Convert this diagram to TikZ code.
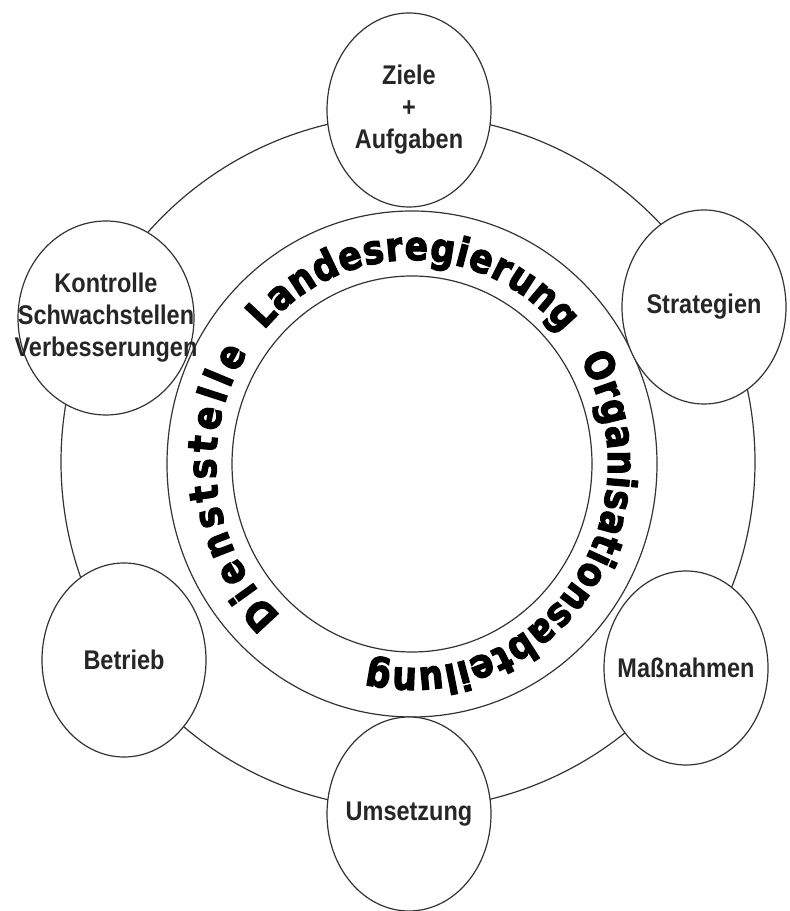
\documentclass[tikz,border=0pt]{standalone}
\usepackage{fontspec}
\newfontfamily\satfont[FakeStretch=0.87]{Liberation Sans}
\newfontfamily\bandfont[FakeStretch=0.86, BoldFeatures={FakeBold=3}]{DejaVu Sans}
\usetikzlibrary{shapes.geometric, decorations.text}

\begin{document}
\begin{tikzpicture}[x=1pt, y=1pt, line width=1.2pt, draw=black!80,
  sat/.style={draw=black!80, ellipse, fill=white, minimum width=164pt, minimum height=194pt, inner sep=0pt,
    label={[satlabel]center:{#1}}},
  satlabel/.style={align=center, text=black!85, inner sep=0pt, font=\satfont\bfseries\fontsize{27}{32}\selectfont},
  bandtext/.style={decorate, decoration={text along path, text align=fit to path,
    text={|\bandfont\bfseries\fontsize{40}{40}\selectfont|#1}}}]
  \useasboundingbox (0,0) rectangle (790,911);
  \coordinate (hub) at (408,449);
  \coordinate (mid) at (412,447);
  \draw (hub) circle[radius=347];
  \draw (mid) ellipse[x radius=245, y radius=253];
  \draw (mid) ellipse[x radius=180, y radius=188];
  \node[sat={Ziele\\+\\Aufgaben}] (ziele) at (409,801) {};
  \node[sat={Strategien}] (strat) at (704,604) {};
  \node[sat={Maßnahmen}] (mass) at (686,243) {};
  \node[sat={Umsetzung}] (ums) at (409,97) {};
  \node[sat={Betrieb}] (betr) at (124,251) {};
  \node[sat={Kontrolle\\Schwachstellen\\Verbesserungen}, minimum width=176pt] (kontr) at (106,593) {};
  \path[bandtext=Dienststelle] (mid) ++(228:196 and 204) arc[start angle=228, end angle=147, x radius=196, y radius=204];
  \path[bandtext=Landesregierung] (mid) ++(139:196 and 204) arc[start angle=139, end angle=40, x radius=196, y radius=204];
  \path[bandtext=Organisationsabteilung] (mid) ++(31:196 and 204) arc[start angle=31, end angle=-103, x radius=196, y radius=204];
\end{tikzpicture}
\end{document}
